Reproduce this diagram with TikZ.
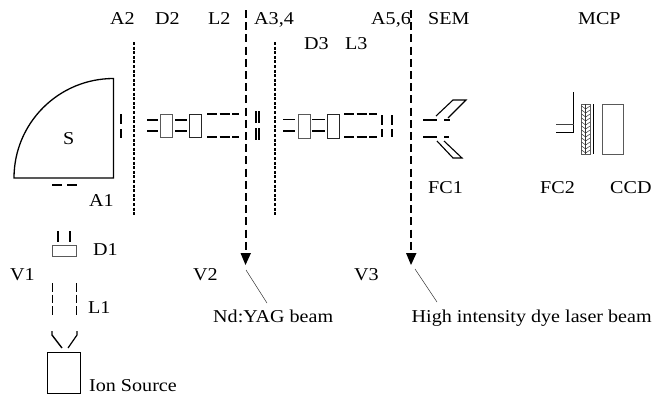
\documentclass[tikz,border=0pt]{standalone}
\usepackage{fontspec}
\setmainfont{Liberation Serif}[FakeStretch=1.11]
\tikzset{
  lab/.style={anchor=base west,inner sep=0pt,font=\fontsize{18.1}{20}\selectfont},
  thin line/.style={line width=1.25pt,black},
  thick line/.style={line width=1.6pt,black},
  grey box/.style={draw=black!65,line width=0.9pt},
  fine dash/.style={line width=1.3pt,dash pattern=on 3pt off 1.6pt},
  beam/.style={line width=2pt,dash pattern=on 8pt off 4.2pt},
  leader/.style={line width=0.5pt,black!80},
  lens top/.style={line width=1.1pt,dash pattern=on 10pt off 2.5pt},
  lens bot/.style={line width=1.8pt,dash pattern=on 10pt off 2.5pt},
}
\begin{document}
\begin{tikzpicture}[x=1pt,y=-1pt]
\useasboundingbox (0,0) rectangle (652,400);
% sector
\draw[line width=1.3pt,line join=miter] (14,178) arc[start angle=180,end angle=270,radius=99.5] -- (113.5,178) -- cycle;
% A1, A2 apertures
\draw[thin line] (52,185)--(62,185) (67,185)--(77,185);
\draw[thin line] (121,114)--(121,124) (121,129)--(121,138);
% thin dashed planes
\draw[fine dash] (134,42)--(134,216);
\draw[fine dash] (275,42)--(275,216);
% D2
\draw[thin line] (147,120)--(158,120) (147,131)--(158,131) (175,120)--(187,120) (175,131)--(187,131);
\draw[grey box] (160.5,114.5) rectangle (172,137.5);
\draw[grey box,draw=black!85] (189.5,114.5) rectangle (201,137.5);
% L2
\draw[lens top] (207,114)--(239,114);
\draw[lens bot] (207,137)--(239,137);
% beams
\draw[beam] (245.5,10)--(245.5,254);
\draw[beam] (411,10)--(411,254);
\fill (240.5,253)--(251,253)--(245.5,265)--cycle;
\fill (406,253)--(416.5,253)--(411,265)--cycle;
% A3,4
\draw[thin line] (256,111)--(256,123) (259,111)--(259,123) (256,128)--(256,140) (259,128)--(259,140);
% D3
\draw[thin line] (283,119.5)--(295,119.5) (283,131)--(295,131) (312,119.5)--(325,119.5) (312,131)--(325,131);
\draw[grey box] (298,114.5) rectangle (310,138);
\draw[grey box,draw=black!85] (327,114.5) rectangle (339,138);
% L3
\draw[lens top] (344,114)--(377,114);
\draw[lens bot] (344,137)--(377,137);
% A5,6
\draw[thin line] (382,115)--(382,125) (382,129)--(382,137) (392,115)--(392,125) (392,129)--(392,137);
% FC1
\draw[thick line] (423,120)--(437,120) (444,120)--(450,120) (423,137)--(437,137) (444,137)--(449,137);
\draw[line width=1.1pt] (436,116)--(453,100)--(466,100)--(448,118);
\draw[line width=1.1pt] (437,141)--(453,158)--(462,158)--(444,141);
% FC2
\draw[thin line] (573.5,92)--(573.5,133);
\draw[line width=0.8pt,black!75] (556,124)--(573.5,124);
\draw[line width=1.3pt] (556,132.5)--(574,132.5);
\draw[grey box] (581.5,104) rectangle (590,154);
\foreach \yy in {106,110,...,150}{
  \draw[line width=0.5pt,black!80] (581.5,\yy)--(585.7,\yy+3)--(590,\yy);
}
\draw[line width=0.5pt,black!80] (585.7,104)--(585.7,154);
\draw[thin line] (593.5,104)--(593.5,154);
\draw[grey box] (602,104) rectangle (623,154);
% D1
\draw[thin line] (58,231)--(58,242) (70,231)--(70,242);
\draw[grey box] (52.5,245) rectangle (76,256);
% L1
\draw[line width=1.6pt,dash pattern=on 8.5pt off 3pt] (52.5,283)--(52.5,315);
\draw[line width=1.2pt,dash pattern=on 8.5pt off 3pt] (76.5,283)--(76.5,315);
\draw[line width=1.4pt] (52,331)--(52,335)--(62,348);
\draw[line width=1.2pt] (77,331)--(77,335)--(68,348);
% ion source
\draw[line width=1pt] (47,352.5) rectangle (80,393);
% labels
\node[lab] (a2) at (110,24) {A2};
\node[lab] (d2) at (155,24) {D2};
\node[lab] (l2) at (208,24) {L2};
\node[lab] (a34) at (254,24) {A3,4};
\node[lab] (a56) at (371,24) {A5,6};
\node[lab] (sem) at (428,24) {SEM};
\node[lab] (mcp) at (578,24) {MCP};
\node[lab] (d3) at (304,49) {D3};
\node[lab] (l3) at (345,49) {L3};
\node[lab] (s) at (63,144) {S};
\node[lab] (a1) at (89,206) {A1};
\node[lab] (fc1) at (428,193) {FC1};
\node[lab] (fc2) at (540,193) {FC2};
\node[lab] (ccd) at (610,193) {CCD};
\node[lab] (d1) at (93,255) {D1};
\node[lab] (v1) at (10,280) {V1};
\node[lab] (v2) at (193,280) {V2};
\node[lab] (v3) at (354,280) {V3};
\node[lab] (l1) at (88,313) {L1};
\node[lab] (ion) at (89,391) {Ion Source};
\node[lab] (nd) at (213,322) {Nd:YAG beam};
\node[lab] (hi) at (411.5,322) {High intensity dye laser beam};
% leaders
\coordinate (t2) at (246,270);
\coordinate (t3) at (415,269);
\draw[leader] (t2)--(267,303);
\draw[leader] (t3)--(437,302);
\end{tikzpicture}
\end{document}
